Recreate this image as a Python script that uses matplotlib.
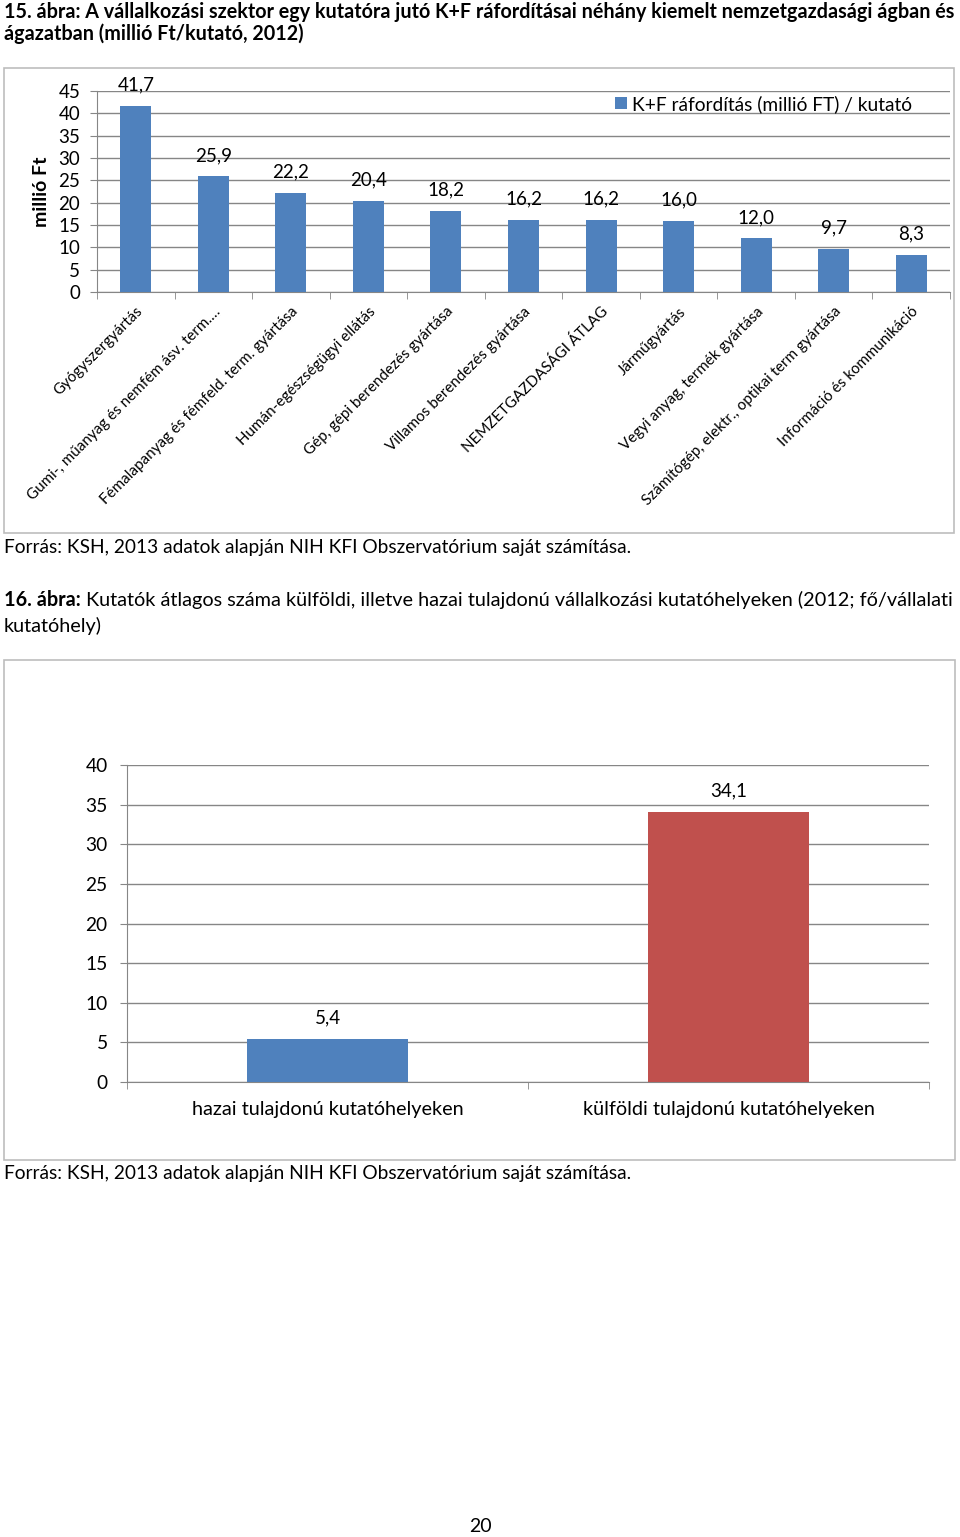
import numpy as np
import matplotlib
matplotlib.use("Agg")
import matplotlib.pyplot as plt
from matplotlib.patches import Rectangle

# oldal mérete pixelben
W, H = 960, 1537
DPI = 100

# 15. ábra adatai
agazatok = [
    "Gyógyszergyártás",
    "Gumi-, műanyag és nemfém ásv. term.…",
    "Fémalapanyag és fémfeld. term. gyártása",
    "Humán-egészségügyi ellátás",
    "Gép, gépi berendezés gyártása",
    "Villamos berendezés gyártása",
    "NEMZETGAZDASÁGI ÁTLAG",
    "Járműgyártás",
    "Vegyi anyag, termék gyártása",
    "Számítógép, elektr., optikai term gyártása",
    "Információ és kommunikáció",
]
raforditas = [41.7, 25.9, 22.2, 20.4, 18.2, 16.2, 16.2, 16.0, 12.0, 9.7, 8.3]
y_tick_1 = list(range(0, 46, 5))

# 16. ábra adatai
kutatohelyek = ["hazai tulajdonú kutatóhelyeken", "külföldi tulajdonú kutatóhelyeken"]
kutatok_szama = [5.4, 34.1]
y_tick_2 = list(range(0, 41, 5))

KEK = "#4F81BD"
PIROS = "#C0504D"
RACS = "#868686"
KERET = "#BDBDBD"

plt.rcParams['font.family'] = ['Lato', 'DejaVu Sans']

fig = plt.figure(figsize=(W / DPI, H / DPI), dpi=DPI)
renderer = fig.canvas.get_renderer()

# háttér tengely pixel-koordinátákkal (bal felső sarok = 0,0)
bg = fig.add_axes([0, 0, 1, 1], zorder=0)
bg.set_xlim(0, W)
bg.set_ylim(H, 0)
bg.axis('off')


def px_axes(x0, y0, x1, y1):
    '''tengely elhelyezése pixelben megadott téglalapba'''
    ax = fig.add_axes([x0 / W, 1 - y1 / H, (x1 - x0) / W, (y1 - y0) / H], zorder=2)
    ax.patch.set_alpha(0)
    return ax


def fit_width(texts, target):
    '''a szövegek együttes szélességét a megadott pixel értékre állítja'''
    w = sum(t.get_window_extent(renderer).width for t in texts)
    for t in texts:
        t.set_fontsize(t.get_fontsize() * target / w)


def hu(v):
    return f"{v:.1f}".replace(".", ",")


def style_axes(ax, ymax, yticks, n, tick_fs):
    ax.set_ylim(0, ymax)
    ax.set_xlim(-0.5, n - 0.5)
    ax.set_yticks(yticks)
    ax.set_yticklabels([str(t) for t in yticks], fontsize=tick_fs)
    ax.yaxis.grid(True, color=RACS, linewidth=1)
    ax.set_axisbelow(True)
    for s in ["top", "right"]:
        ax.spines[s].set_visible(False)
    for s in ["left", "bottom"]:
        ax.spines[s].set_color(RACS)
    ax.tick_params(axis='y', length=5, color=RACS, pad=7)
    ax.set_xticks(np.arange(n + 1) - 0.5, minor=True)
    ax.tick_params(axis='x', which='minor', length=5, color=RACS)
    ax.tick_params(axis='x', which='major', length=0)


# ---------------- 15. ábra ----------------
t1 = bg.text(4, 12, "15. ábra: A vállalkozási szektor egy kutatóra jutó K+F ráfordításai néhány kiemelt nemzetgazdasági ágban és",
             fontsize=13, fontweight='bold', va='center', ha='left')
fit_width([t1], 948)
bg.text(4, 34, "ágazatban (millió Ft/kutató, 2012)", fontsize=t1.get_fontsize(),
        fontweight='bold', va='center', ha='left')

bg.add_patch(Rectangle((4, 68), 950, 465, fill=False, edgecolor=KERET, linewidth=1.2))

ax1 = px_axes(97, 91, 950, 292)
x1 = np.arange(len(raforditas))
ax1.bar(x1, raforditas, width=0.4, color=KEK, label="K+F ráfordítás (millió FT) / kutató", zorder=3)
style_axes(ax1, 45, y_tick_1, len(raforditas), 13.5)
for xi, v in zip(x1, raforditas):
    ax1.annotate(hu(v), (xi, v), xytext=(0, 15), textcoords='offset points',
                 ha='center', va='center', fontsize=13.5)
ax1.set_xticks(x1)
ax1.set_xticklabels(agazatok, rotation=45, ha='right', rotation_mode='anchor', fontsize=10.9)
ax1.tick_params(axis='x', which='major', pad=9)
ax1.set_ylabel("millió Ft", fontsize=14, fontweight='bold', labelpad=6)
ax1.legend(loc='center left', bbox_to_anchor=(598 / W, 1 - 104 / H), bbox_transform=fig.transFigure,
           frameon=False, fontsize=13.8, handlelength=0.6, handleheight=0.6, handletextpad=0.3)

f1 = bg.text(4, 547, "Forrás: KSH, 2013 adatok alapján NIH KFI Obszervatórium saját számítása.",
             fontsize=12.5, va='center', ha='left')
fit_width([f1], 628)

# ---------------- 16. ábra ----------------
b2 = bg.text(4, 600, "16. ábra: ", fontsize=13, fontweight='bold', va='center', ha='left')
r2 = bg.text(4, 600, "Kutatók átlagos száma külföldi, illetve hazai tulajdonú vállalkozási kutatóhelyeken (2012; fő/vállalati",
             fontsize=13, va='center', ha='left')
fit_width([b2, r2], 950)
r2.set_x(4 + b2.get_window_extent(renderer).width)
bg.text(4, 626, "kutatóhely)", fontsize=r2.get_fontsize(), va='center', ha='left')

bg.add_patch(Rectangle((4, 660), 951, 500, fill=False, edgecolor=KERET, linewidth=1.2))

ax2 = px_axes(127, 765, 929, 1082)
x2 = np.arange(len(kutatok_szama))
ax2.bar(x2, kutatok_szama, width=0.4, color=[KEK, PIROS], zorder=3)
style_axes(ax2, 40, y_tick_2, len(kutatok_szama), 13.8)
ax2.tick_params(axis='y', pad=9)
for xi, v in zip(x2, kutatok_szama):
    ax2.annotate(hu(v), (xi, v), xytext=(0, 15), textcoords='offset points',
                 ha='center', va='center', fontsize=13.5)
ax2.set_xticks(x2)
ax2.set_xticklabels(kutatohelyek, fontsize=14.3)
ax2.tick_params(axis='x', which='major', pad=14)

f2 = bg.text(4, 1174, "Forrás: KSH, 2013 adatok alapján NIH KFI Obszervatórium saját számítása.",
             fontsize=12.5, va='center', ha='left')
fit_width([f2], 628)

# oldalszám
bg.text(480, 1526, "20", fontsize=14, va='center', ha='center')

fig.savefig("out.png", dpi=DPI)
